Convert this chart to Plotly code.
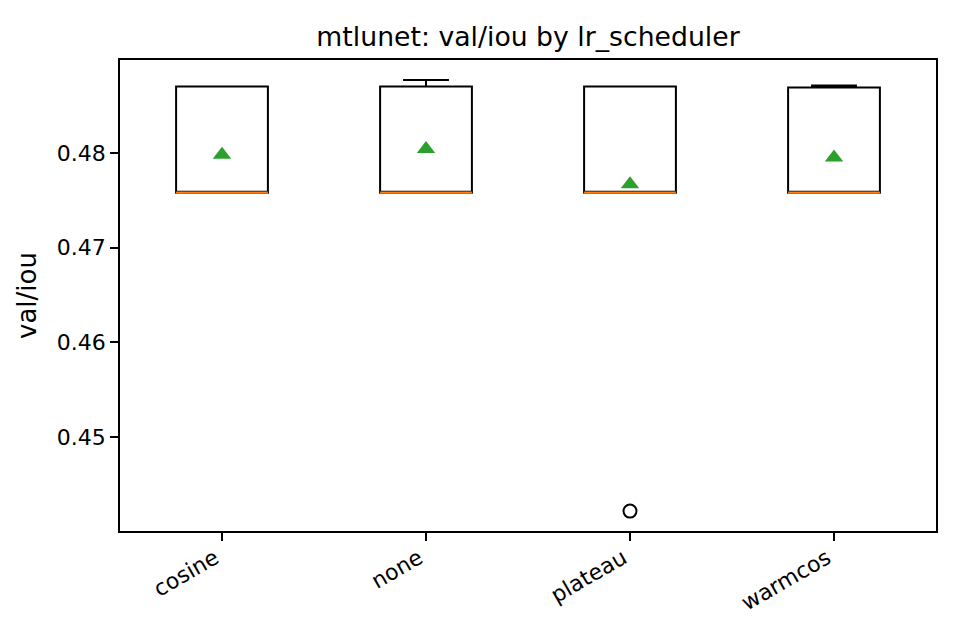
"""
Box plot of val/iou per lr_scheduler for mtlunet (summary stats read off the reference).
"""
import plotly.graph_objects as go

schedulers = ['cosine', 'none', 'plateau', 'warmcos']
q1 = [0.4758, 0.4758, 0.4758, 0.4758]
median = [0.4758, 0.4758, 0.4758, 0.4758]
q3 = [0.4870, 0.4870, 0.4870, 0.4869]
lower_whisker = [0.4758, 0.4758, 0.4758, 0.4758]
upper_whisker = [0.4870, 0.4877, 0.4870, 0.4871]
means = [0.4798, 0.4804, 0.4767, 0.4795]
outlier_x = ['plateau']
outlier_y = [0.4422]

FONT = 'DejaVu Sans'
#page body has an 8px margin, so the figure is shrunk by that much
W, H = 952, 632
BOX_WIDTH = 0.45

fig = go.Figure()

#box + whiskers in black
fig.add_trace(go.Box(x=schedulers, q1=q1, median=median, q3=q3,
                     lowerfence=lower_whisker, upperfence=upper_whisker,
                     width=BOX_WIDTH,
                     fillcolor='rgba(0,0,0,0)', line=dict(color='black', width=2),
                     whiskerwidth=0.5, boxpoints=False, showlegend=False,
                     hoverinfo='skip'))

#median drawn as a flat box on top so it can be orange
fig.add_trace(go.Box(x=schedulers, q1=median, median=median, q3=median,
                     lowerfence=median, upperfence=median,
                     width=BOX_WIDTH,
                     fillcolor='rgba(0,0,0,0)', line=dict(color='#ff7f0e', width=2.2),
                     whiskerwidth=0, boxpoints=False, showlegend=False))

#means
fig.add_trace(go.Scatter(x=schedulers, y=means, mode='markers',
                         marker=dict(symbol='triangle-up', size=16, color='#2ca02c'),
                         showlegend=False))

#fliers
fig.add_trace(go.Scatter(x=outlier_x, y=outlier_y, mode='markers',
                         marker=dict(symbol='circle-open', size=13, color='black',
                                     line=dict(width=2)),
                         showlegend=False))

fig.update_layout(
    width=W, height=H,
    paper_bgcolor='white', plot_bgcolor='white',
    margin=dict(l=112, r=24, t=52, b=109),
    boxmode='overlay',
    font=dict(family=FONT, size=22, color='black'),
    title=dict(text='mtlunet: val/iou by lr_scheduler', x=0.5, xanchor='center',
               xref='paper', y=1 - 29 / H, yanchor='middle', font=dict(size=26.7)),
)
fig.update_xaxes(type='category', range=[-0.5, 3.5], tickangle=-30,
                 ticklabelshift=-7, ticklabelstandoff=-4,
                 showline=True, linecolor='black', linewidth=1.8, mirror=True,
                 ticks='outside', ticklen=8, tickwidth=1.8, tickcolor='black',
                 showgrid=False, zeroline=False)
fig.update_yaxes(range=[0.4401, 0.4898], tickvals=[0.45, 0.46, 0.47, 0.48],
                 ticktext=['0.45', '0.46', '0.47', '0.48'],
                 showline=True, linecolor='black', linewidth=1.8, mirror=True,
                 ticks='outside', ticklen=8, tickwidth=1.8, tickcolor='black',
                 showgrid=False, zeroline=False,
                 title=dict(text='val/iou', standoff=13))

fig.write_html("out.html")
